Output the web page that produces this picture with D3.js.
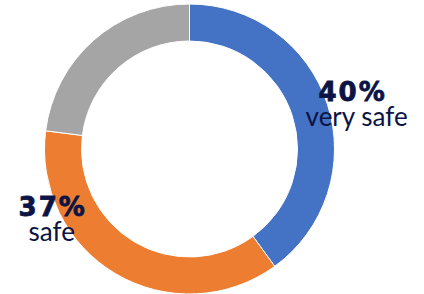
<!DOCTYPE html>
<html>
<head>
<meta charset="utf-8">
<script src="https://cdn.jsdelivr.net/npm/d3@7"></script>
<style>
  body { margin: 0; background: #fff; }
  svg { display: block; }
  .pct { font-family: "DejaVu Sans", sans-serif; font-weight: 700; fill: #0c1445; stroke: #0c1445; stroke-width: 0.8px; }
  .name { font-family: Lato, "Noto Sans", sans-serif; font-weight: 400; fill: #0c1445; }
</style>
</head>
<body>
<div id="chart"></div>
<script>
// data
var categories = ["very safe", "safe", "other"];
var values = [40, 37, 23];
var colors = ["#4472C4", "#ED7D31", "#A5A5A5"];
var showLabel = [true, true, false];

// layout
var svgWidth = 424;
var svgHeight = 294;
var cx = 189.5, cy = 149;
var outerR = 145, innerR = 108;
// label anchor: angle (deg, clockwise from top), distance from centre, name nudge
var labelPos = [{ angle: 77.6, r: 167, nameDx: 4 }, { angle: 240, r: 158, nameDx: -1 }];

var svg = d3.select("#chart")
  .append("svg")
  .attr("width", svgWidth)
  .attr("height", svgHeight);

var g = svg.append("g")
  .attr("transform", `translate(${cx}, ${cy})`);

var pie = d3.pie().sort(null).value(d => d.value);
var arc = d3.arc().innerRadius(innerR).outerRadius(outerR);

var table = categories.map((c, i) => ({ name: c, value: values[i], color: colors[i], show: showLabel[i] }));
var total = d3.sum(values);

g.selectAll("path")
  .data(pie(table))
  .enter()
  .append("path")
  .attr("d", arc)
  .attr("fill", d => d.data.color)
  .attr("stroke", "#fff")
  .attr("stroke-width", 1);

// labels
var labelled = table.filter(d => d.show);
labelled.forEach(function(d, i) {
  var p = d3.pointRadial(labelPos[i].angle * Math.PI / 180, labelPos[i].r);
  var t = g.append("g").attr("transform", `translate(${p[0]}, ${p[1]})`);
  t.append("text")
    .attr("class", "pct")
    .attr("text-anchor", "middle")
    .attr("y", -12)
    .style("font-size", "26px")
    .style("letter-spacing", "2px")
    .text(Math.round(d.value / total * 100) + "%");
  t.append("text")
    .attr("class", "name")
    .attr("text-anchor", "middle")
    .attr("x", labelPos[i].nameDx)
    .attr("y", 13)
    .style("font-size", "26px")
    .text(d.name);
});
</script>
</body>
</html>
